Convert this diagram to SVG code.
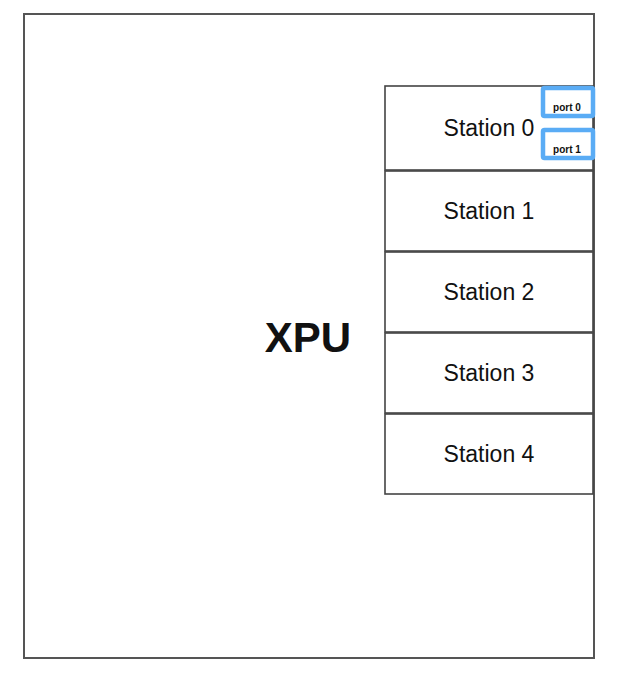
<svg xmlns="http://www.w3.org/2000/svg" width="620" height="674" viewBox="0 0 620 674">
<style>
.box{fill:#fff;stroke:#444;stroke-width:1.6}
.st{font-family:"Liberation Sans",Arial,sans-serif;font-size:23px;fill:#111;text-anchor:middle}
.port{fill:#fff;stroke:#5aacf5;stroke-width:4.5}
.pt{font-family:"Liberation Sans",Arial,sans-serif;font-size:10px;font-weight:bold;fill:#111;text-anchor:middle}
</style>
<rect width="620" height="674" fill="#fff"/>
<g id="xpu">
<rect x="24" y="14" width="570" height="644" fill="#fff" stroke="#555" stroke-width="2"/>
<text x="308" y="352" font-family="Liberation Sans,Arial,sans-serif" font-size="42" font-weight="bold" fill="#111" text-anchor="middle">XPU</text>
</g>
<g id="station0"><rect class="box" x="385" y="86" width="208" height="84"/><text class="st" x="489" y="136">Station 0</text></g>
<g id="station1"><rect class="box" x="385" y="171" width="208" height="80"/><text class="st" x="489" y="219">Station 1</text></g>
<g id="station2"><rect class="box" x="385" y="252" width="208" height="80"/><text class="st" x="489" y="300">Station 2</text></g>
<g id="station3"><rect class="box" x="385" y="333" width="208" height="80"/><text class="st" x="489" y="381">Station 3</text></g>
<g id="station4"><rect class="box" x="385" y="414" width="208" height="80"/><text class="st" x="489" y="462">Station 4</text></g>
<g id="port0"><rect class="port" x="543" y="88" width="50" height="28" rx="1.5"/><text class="pt" x="567" y="111">port 0</text></g>
<g id="port1"><rect class="port" x="543" y="130" width="50" height="28" rx="1.5"/><text class="pt" x="567" y="153">port 1</text></g>
<g id="connectors"></g>
</svg>
